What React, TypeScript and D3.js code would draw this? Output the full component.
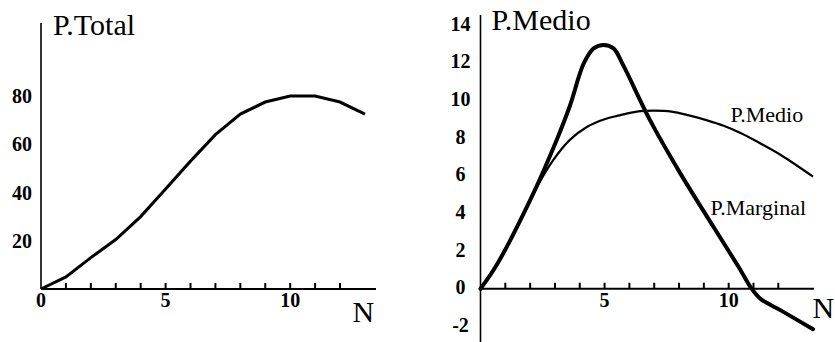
import React, { useEffect } from "react";
import * as d3 from "d3";

// Producto total (izquierda)
const totalN = [0, 1, 2, 3, 4, 5, 6, 7, 8, 9, 10, 11, 12, 13];
const totalValues = [0, 5, 13, 20.5, 30, 41.5, 53, 64, 72.5, 77.5, 80, 80, 77.5, 72.5];
const totalYTicks = [20, 40, 60, 80];

// Producto marginal y medio (derecha)
const marginalN = [0, 0.65, 2.0, 3.07, 3.6, 4.16, 4.56, 4.96, 5.36, 5.75, 6.83, 8.04, 9.38, 10.45, 10.9, 11.3, 12.1, 13.4];
const marginalValues = [0, 1.26, 4.7, 7.9, 9.7, 11.96, 12.76, 12.94, 12.76, 11.87, 8.95, 6.15, 3.3, 1.05, 0.05, -0.55, -1.15, -2.15];
const medioN = [0, 0.65, 2.0, 2.27, 2.93, 3.6, 4.3, 5.0, 5.6, 6.3, 7.0, 7.7, 8.4, 9.1, 9.8, 10.5, 11.3, 12.1, 13.4];
const medioValues = [0, 1.26, 4.7, 5.4, 6.83, 7.9, 8.6, 9.0, 9.2, 9.4, 9.45, 9.4, 9.2, 8.95, 8.65, 8.25, 7.7, 7.1, 5.95];
const rightYTicks = [-2, 0, 2, 4, 6, 8, 10, 12, 14];

const minorTicks = [1, 2, 3, 4, 5, 6, 7, 8, 9, 10, 11, 12];
const leftXLabels = [0, 5, 10];
const rightXLabels = [5, 10];

const serif = { fontFamily: "Liberation Serif" };

export default function App() {
  useEffect(() => {
    document.body.style.margin = "0";
  }, []);

  // left panel scales
  const xL = d3.scaleLinear().domain([0, 12]).range([41, 340]);
  const yL = d3.scaleLinear().domain([0, 80]).range([289, 96]);
  // right panel scales
  const xR = d3.scaleLinear().domain([0, 12]).range([480.5, 778.3]);
  const yR = d3.scaleLinear().domain([-2, 14]).range([326.4, 25]);

  const totalLine = d3
    .line<number>()
    .x((_, i) => xL(totalN[i]))
    .y((d) => yL(d))
    .curve(d3.curveLinear)(totalValues) as string;

  const marginalLine = d3
    .line<number>()
    .x((_, i) => xR(marginalN[i]))
    .y((d) => yR(d))
    .curve(d3.curveCatmullRom.alpha(0.5))(marginalValues) as string;

  const medioLine = d3
    .line<number>()
    .x((_, i) => xR(medioN[i]))
    .y((d) => yR(d))
    .curve(d3.curveCatmullRom.alpha(0.5))(medioValues) as string;

  return (
    <svg width={835} height={342} style={serif}>
      <rect width={835} height={342} fill="#fff" />
      {/* ---- Producto total ---- */}
      <g>
        <line x1={xL(0)} x2={xL(0)} y1={23} y2={yL(0)} stroke="#000" strokeWidth={1.6} />
        <line x1={xL(0)} x2={376} y1={yL(0)} y2={yL(0)} stroke="#000" strokeWidth={2} />
        {minorTicks.map((t) => (
          <line key={t} x1={xL(t)} x2={xL(t)} y1={yL(0) - 6} y2={yL(0)} stroke="#000" strokeWidth={2} />
        ))}
        {leftXLabels.map((t) => (
          <text key={t} x={xL(t)} y={306.5} textAnchor="middle" fontSize={20} fontWeight="bold" style={serif}>
            {t}
          </text>
        ))}
        {totalYTicks.map((t) => (
          <text key={t} x={xL(0) - 19} y={yL(t) + 7} textAnchor="middle" fontSize={20} fontWeight="bold" style={serif}>
            {t}
          </text>
        ))}
        <path d={totalLine} fill="none" stroke="#000" strokeWidth={3} strokeLinejoin="miter" />
        <text x={53} y={34.5} fontSize={30} style={serif}>
          P.Total
        </text>
        <text x={352.5} y={321.7} fontSize={30} style={serif}>
          N
        </text>
      </g>

      {/* ---- Producto medio y marginal ---- */}
      <g>
        <line x1={xR(0)} x2={xR(0)} y1={15} y2={342} stroke="#000" strokeWidth={1.6} />
        <line x1={xR(0)} x2={814} y1={yR(0)} y2={yR(0)} stroke="#000" strokeWidth={2} />
        {minorTicks.map((t) => (
          <line key={t} x1={xR(t)} x2={xR(t)} y1={yR(0) - 6} y2={yR(0)} stroke="#000" strokeWidth={2} />
        ))}
        {rightXLabels.map((t) => (
          <text key={t} x={xR(t)} y={306.5} textAnchor="middle" fontSize={20} fontWeight="bold" style={serif}>
            {t}
          </text>
        ))}
        {rightYTicks.map((t) => (
          <text key={t} x={xR(0) - 20} y={yR(t) + 5.5} textAnchor="middle" fontSize={20} fontWeight="bold" style={serif}>
            {t}
          </text>
        ))}
        <path d={medioLine} fill="none" stroke="#000" strokeWidth={2.2} strokeLinejoin="round" />
        <path d={marginalLine} fill="none" stroke="#000" strokeWidth={4} strokeLinejoin="round" strokeLinecap="round" />
        <text x={491.5} y={29.5} fontSize={30} style={serif}>
          P.Medio
        </text>
        <text x={730.5} y={121.7} fontSize={22} style={serif}>
          P.Medio
        </text>
        <text x={710.5} y={215} fontSize={22} style={serif}>
          P.Marginal
        </text>
        <text x={812.5} y={318.3} fontSize={30} style={serif}>
          N
        </text>
      </g>
    </svg>
  );
}
